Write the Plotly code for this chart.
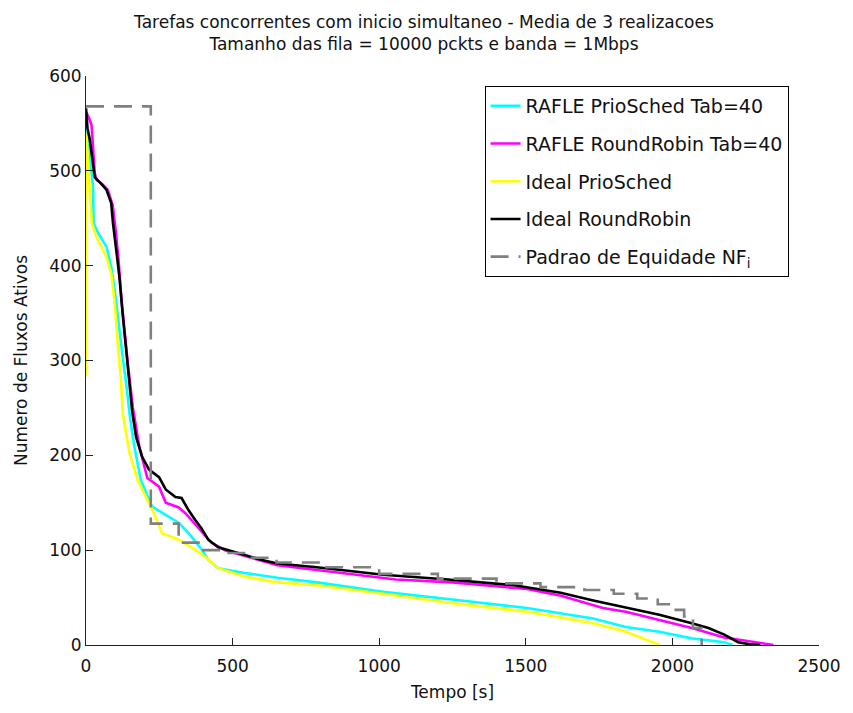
import plotly.graph_objects as go

# ---------------- data ----------------
rafle_prio_t = [0, 10, 19, 24, 26, 40, 70, 86, 98, 108, 125, 137, 150, 165, 187, 225, 272,
                316, 350, 394, 417, 451, 541, 653, 787, 1013, 1250, 1504, 1730, 1841, 1955,
                2066, 2177, 2205]
rafle_prio_y = [550, 530, 498, 483, 445, 435, 420, 399, 374, 346, 304, 276, 240, 209, 174, 146, 137,
                129, 118, 101, 90, 81, 76, 71, 66, 56, 48, 39, 28, 19, 14,
                7, 3, 0]

rafle_rr_t = [0, 10, 19, 25, 30, 37, 55, 74, 91, 101, 111, 121, 131, 145, 160, 182, 209, 249,
              272, 316, 339, 394, 427, 474, 560, 653, 787, 1057, 1250, 1460, 1504, 1620, 1730,
              1763, 1841, 1955, 2066, 2177, 2292, 2345]
rafle_rr_y = [562, 556, 548, 515, 497, 490, 486, 480, 464, 438, 406, 364, 332, 290, 250, 209, 176, 167,
              150, 145, 139, 119, 108, 100, 92, 84, 79, 69, 66, 60, 59, 52, 42,
              39, 35, 26, 18, 8, 3, 0]

ideal_prio_t = [0, 1, 8, 13, 20, 36, 70, 86, 98, 108, 120, 125, 148, 176, 232, 259, 316, 360,
                406, 451, 541, 653, 787, 1013, 1250, 1504, 1730, 1841, 1932, 1958]
ideal_prio_y = [284, 540, 500, 480, 445, 430, 409, 392, 361, 319, 276, 245, 203, 174, 139, 118, 111, 103,
                93, 81, 72, 66, 63, 54, 44, 35, 23, 14, 3, 0]

ideal_rr_t = [0, 5, 13, 25, 30, 50, 70, 86, 92, 103, 114, 126, 137, 148, 158, 171, 192, 215, 249,
              272, 305, 326, 350, 372, 394, 417, 451, 518, 596, 653, 787, 1013, 1235, 1460, 1504,
              1619, 1730, 1841, 1955, 2066, 2123, 2177, 2224, 2260, 2300]
ideal_rr_y = [566, 545, 533, 504, 493, 487, 480, 466, 445, 417, 388, 346, 311, 276, 245, 219, 198, 185, 177,
              164, 156, 155, 142, 132, 123, 111, 103, 97, 90, 86, 82, 74, 69, 63, 61,
              55, 47, 40, 32, 23, 18, 11, 3, 1, 0]

equidade_t = [0, 221, 316, 400, 480, 560, 650, 800, 1000, 1200, 1400, 1550, 1700, 1800, 1880,
              1950, 2000, 2040, 2070, 2100]
equidade_y = [568, 128, 108, 100, 97, 92, 87, 82, 75, 70, 65, 61, 58, 54, 49,
              43, 37, 30, 18, 0]

x_ticks = [0, 500, 1000, 1500, 2000, 2500]
y_ticks = [0, 100, 200, 300, 400, 500, 600]

title_line1 = "Tarefas concorrentes com inicio simultaneo - Media de 3 realizacoes"
title_line2 = "Tamanho das fila = 10000 pckts e banda = 1Mbps"

# ---------------- figure ----------------
FONT = "DejaVu Sans"
TXT = "#111111"
fig = go.Figure()

series = [
    ("RAFLE PrioSched Tab=40", rafle_prio_t, rafle_prio_y, "#00FFFF", "solid", "linear"),
    ("RAFLE RoundRobin Tab=40", rafle_rr_t, rafle_rr_y, "#FF00FF", "solid", "linear"),
    ("Ideal PrioSched", ideal_prio_t, ideal_prio_y, "#FFFF00", "solid", "linear"),
    ("Ideal RoundRobin", ideal_rr_t, ideal_rr_y, "#000000", "solid", "linear"),
    ("Padrao de Equidade NF<sub>i</sub>", equidade_t, equidade_y, "#808080", "18px,10px", "hv"),
]
for i, (name, t, y, color, dash, shape) in enumerate(series):
    fig.add_trace(go.Scatter(
        x=t, y=y, mode="lines", name=name, legendgroup=f"g{i}",
        line=dict(color=color, width=2.6, dash=dash, shape=shape),
    ))

axis_common = dict(
    showline=True, linecolor="#222222", linewidth=1, mirror=False,
    ticks="inside", ticklen=7, tickcolor="#222222", tickwidth=1,
    showgrid=False, zeroline=False,
    tickfont=dict(family=FONT, size=17, color=TXT),
)

fig.update_layout(
    width=853, height=713,
    margin=dict(l=86, r=24, t=76, b=68, pad=0),
    paper_bgcolor="white", plot_bgcolor="white",
    title=dict(
        text=title_line1 + "<br>" + title_line2,
        x=0.497, xanchor="center", xref="container",
        y=1 - 28 / 713, yanchor="middle", yref="container",
        font=dict(family=FONT, size=17, color=TXT),
    ),
    xaxis=dict(range=[0, 2500], tickvals=x_ticks, ticklabelstandoff=6,
               title=dict(text="Tempo [s]", standoff=10,
                          font=dict(family=FONT, size=17, color=TXT)),
               **axis_common),
    yaxis=dict(range=[0, 600], tickvals=y_ticks,
               title=dict(text="Numero de Fluxos Ativos", standoff=17,
                          font=dict(family=FONT, size=17, color=TXT)),
               **axis_common),
    legend=dict(
        x=(490 - 86) / 743, y=0.9824, xanchor="left", yanchor="top",
        bordercolor="#000000", borderwidth=1, bgcolor="white",
        font=dict(family=FONT, size=19, color=TXT),
        tracegroupgap=10,
    ),
    showlegend=True,
)

fig.write_html("out.html")
